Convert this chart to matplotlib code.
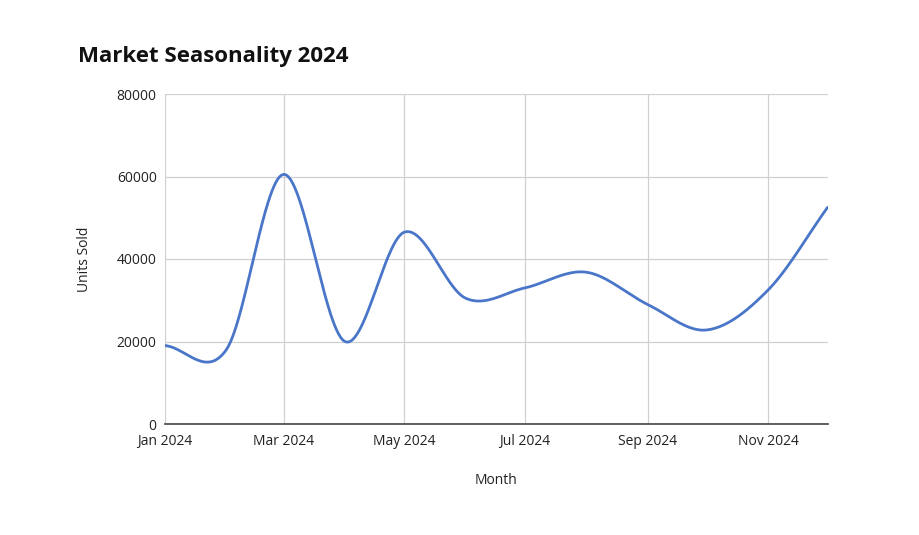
import numpy as np
import matplotlib
matplotlib.use("Agg")
import matplotlib.pyplot as plt
import matplotlib.dates as mdates
import datetime as dt

months = ["2024-01-01", "2024-02-01", "2024-03-01", "2024-04-01", "2024-05-01", "2024-06-01",
          "2024-07-01", "2024-08-01", "2024-09-01", "2024-10-01", "2024-11-01", "2024-12-01"]
units_sold = [19000, 18000, 60500, 20000, 46500, 30500, 33000, 36800, 29000, 22800, 32500, 52500]
y_ticks = [0, 20000, 40000, 60000, 80000]
title = "Market Seasonality 2024"

plt.rcParams['font.family'] = ['Open Sans', 'DejaVu Sans']

dates = [dt.datetime.strptime(m, "%Y-%m-%d") for m in months]
x = mdates.date2num(dates)
y = np.array(units_sold, dtype=float)

# Catmull-Rom style smooth curve (cubic Hermite with centered tangents)
n = len(x)
m = np.zeros(n)
for i in range(n):
    if i == 0:
        m[i] = (y[1] - y[0]) / (x[1] - x[0])
    elif i == n - 1:
        m[i] = (y[-1] - y[-2]) / (x[-1] - x[-2])
    else:
        m[i] = (y[i + 1] - y[i - 1]) / (x[i + 1] - x[i - 1])
xs, ys = [], []
for i in range(n - 1):
    h = x[i + 1] - x[i]
    t = np.linspace(0, 1, 60, endpoint=(i == n - 2))
    h00 = 2 * t**3 - 3 * t**2 + 1
    h10 = t**3 - 2 * t**2 + t
    h01 = -2 * t**3 + 3 * t**2
    h11 = t**3 - t**2
    xs.append(x[i] + t * h)
    ys.append(h00 * y[i] + h10 * h * m[i] + h01 * y[i + 1] + h11 * h * m[i + 1])
xs = np.concatenate(xs)
ys = np.concatenate(ys)

fig = plt.figure(figsize=(9.2, 5.35), dpi=100)
ax = fig.add_axes([165 / 920, 1 - 424 / 535, (827.5 - 165) / 920, (424 - 94) / 535])

ax.plot(xs, ys, color="#4a76c9", lw=2.0, solid_capstyle="round")

ax.set_xlim(x[0], x[-1])
ax.set_ylim(0, 80000)
ax.set_yticks(y_ticks)
ax.set_yticklabels([str(v) for v in y_ticks])
ax.xaxis.set_major_locator(mdates.MonthLocator(bymonth=[1, 3, 5, 7, 9, 11]))
ax.xaxis.set_major_formatter(mdates.DateFormatter("%b %Y"))

ax.grid(True, color="#d0d0d0", lw=0.9)
ax.set_axisbelow(True)
for s in ["top", "right", "left"]:
    ax.spines[s].set_visible(False)
ax.spines["bottom"].set_color("#444444")
ax.spines["bottom"].set_linewidth(1.2)
ax.tick_params(length=0, labelsize=10, colors="#222222", pad=6)
ax.tick_params(axis='x', pad=7.5)

ax.set_xlabel("Month", fontsize=10, color="#222222", labelpad=17)
ax.set_ylabel("Units Sold", fontsize=10, color="#222222", labelpad=18)

fig.text(78 / 920, 1 - 57 / 535, title, fontsize=16, fontweight="bold", va="center", ha="left", color="#111111")

fig.savefig("out.png", dpi=100, facecolor="white")
